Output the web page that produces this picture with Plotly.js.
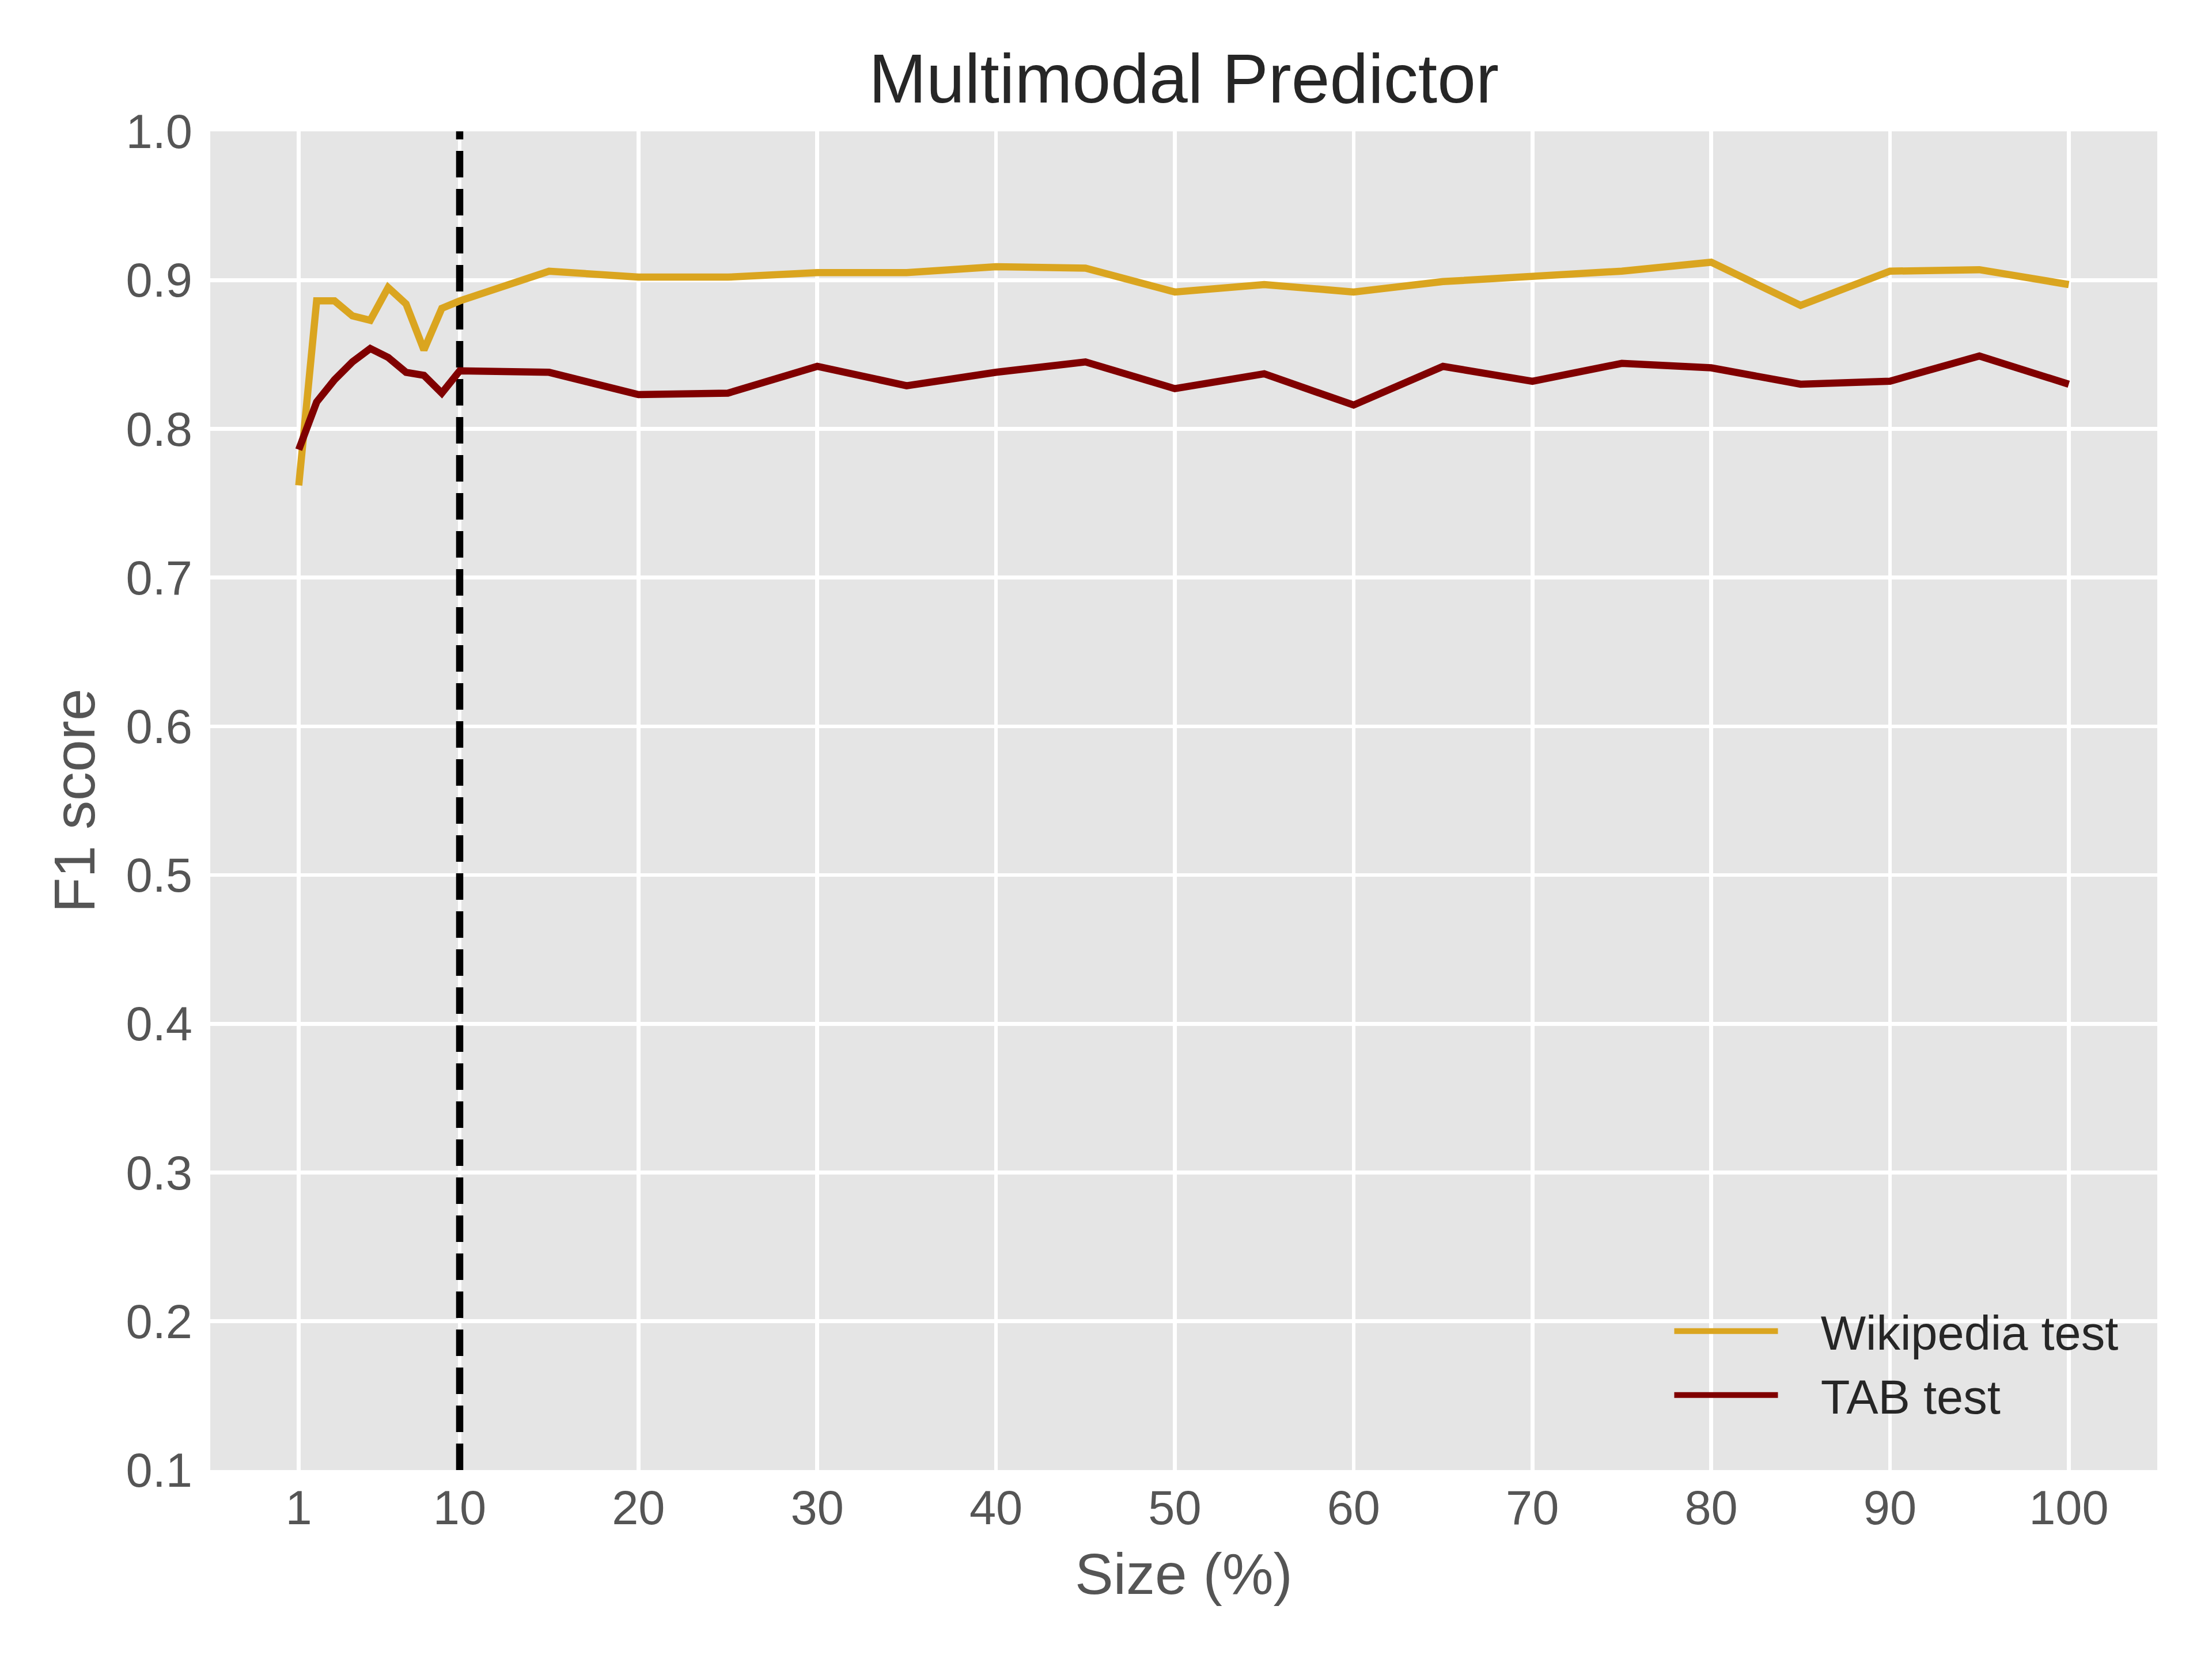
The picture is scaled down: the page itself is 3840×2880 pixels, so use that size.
<!DOCTYPE html>
<html>
<head>
<meta charset="utf-8">
<script src="https://cdn.plot.ly/plotly-3.0.1.min.js"></script>
<style>
  html, body { margin: 0; padding: 0; background: #ffffff; }
  #chart { width: 3840px; height: 2880px; }
</style>
</head>
<body>
<div id="chart"></div>
<script>
// ---- Data ----
const sizes = [1, 2, 3, 4, 5, 6, 7, 8, 9, 10, 15, 20, 25, 30, 35, 40, 45, 50, 55, 60, 65, 70, 75, 80, 85, 90, 95, 100];
const wikipediaF1 = [0.762, 0.886, 0.886, 0.876, 0.873, 0.895, 0.884, 0.853, 0.881, 0.886,
                     0.906, 0.902, 0.902, 0.905, 0.905, 0.909, 0.908, 0.892, 0.897, 0.892,
                     0.899, 0.903, 0.906, 0.912, 0.883, 0.906, 0.907, 0.897];
const tabF1 = [0.786, 0.818, 0.833, 0.845, 0.854, 0.848, 0.838, 0.836, 0.824, 0.839,
               0.838, 0.823, 0.824, 0.842, 0.829, 0.838, 0.845, 0.827, 0.837, 0.816,
               0.842, 0.832, 0.844, 0.841, 0.830, 0.832, 0.849, 0.830];
const seriesNames = ["Wikipedia test", "TAB test"];
const xTickVals = [1, 10, 20, 30, 40, 50, 60, 70, 80, 90, 100];
const xTickText = ["1", "10", "20", "30", "40", "50", "60", "70", "80", "90", "100"];
const yRange = [0.1, 1.0];
const thresholdSize = 10;
const chartTitle = "Multimodal Predictor";
const xTitle = "Size (%)";
const yTitle = "F1 score";

// ---- Chart ----
const FONT = "Liberation Sans, Arial, Helvetica, sans-serif";
const LW = 12.5;
const GAP = "\u00A0\u00A0\u00A0"; // spacing between legend sample and label

const traces = [
  { x: [thresholdSize, thresholdSize], y: yRange, type: "scatter", mode: "lines",
    showlegend: false, hoverinfo: "skip",
    line: { color: "#000000", width: LW, dash: "46px,20px" } },
  { x: sizes, y: wikipediaF1, name: GAP + seriesNames[0], type: "scatter", mode: "lines",
    line: { color: "#DAA520", width: LW } },
  { x: sizes, y: tabF1, name: GAP + seriesNames[1], type: "scatter", mode: "lines",
    line: { color: "#800000", width: LW } }
];

const layout = {
  width: 3840, height: 2880,
  paper_bgcolor: "#ffffff",
  plot_bgcolor: "#E5E5E5",
  margin: { l: 365, r: 95, t: 228, b: 328, pad: 0 },
  font: { family: FONT, size: 83, color: "#555555" },
  title: {
    text: chartTitle,
    font: { family: FONT, size: 120, color: "#262626" },
    x: 0.5, xref: "paper", xanchor: "center",
    y: 1, yref: "paper", yanchor: "bottom",
    pad: { b: 50 }
  },
  xaxis: {
    range: [-3.95, 104.95],
    tickvals: xTickVals, ticktext: xTickText,
    showgrid: true, gridcolor: "#ffffff", gridwidth: 6.7,
    zeroline: false, showline: false,
    ticks: "", ticklabelstandoff: 10,
    tickfont: { family: FONT, size: 83, color: "#555555" },
    title: { text: xTitle, font: { family: FONT, size: 100, color: "#555555" }, standoff: 33 }
  },
  yaxis: {
    range: yRange, dtick: 0.1, tick0: 0.1, tickformat: ".1f",
    showgrid: true, gridcolor: "#ffffff", gridwidth: 6.7,
    zeroline: false, showline: false,
    ticks: "", ticklabelstandoff: 30,
    tickfont: { family: FONT, size: 83, color: "#555555" },
    title: { text: yTitle, font: { family: FONT, size: 100, color: "#555555" }, standoff: 20 }
  },
  legend: {
    x: 0.9815, xanchor: "right", y: 0.03, yanchor: "bottom",
    bgcolor: "rgba(0,0,0,0)", borderwidth: 0,
    font: { family: FONT, size: 83, color: "#262626" },
    itemwidth: 180,
    traceorder: "normal"
  },
  showlegend: true
};

Plotly.newPlot("chart", traces, layout, { staticPlot: true, displayModeBar: false });
</script>
</body>
</html>
